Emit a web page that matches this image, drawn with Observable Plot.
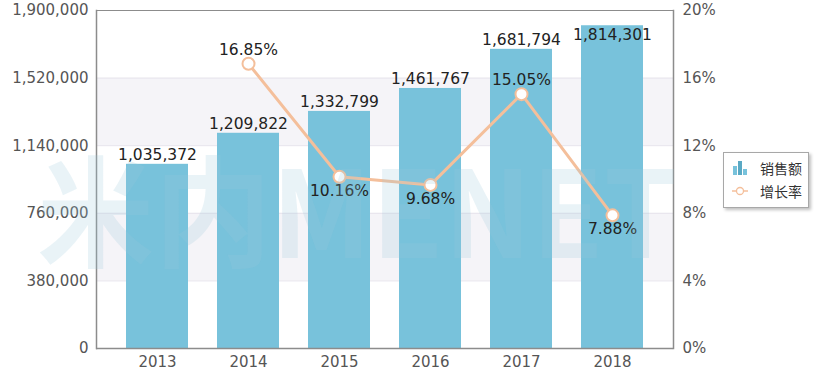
<!DOCTYPE html>
<html>
<head>
<meta charset="utf-8">
<script src="https://cdn.jsdelivr.net/npm/d3@7"></script>
<script src="https://cdn.jsdelivr.net/npm/@observablehq/plot@0.6"></script>
<style>
  html, body { margin: 0; padding: 0; background: #fff; }
  #wrap { position: relative; width: 818px; height: 375px; }
  #legend {
    position: absolute; left: 723px; top: 152px; width: 84px; height: 54px;
    background: #fff; border: 1px solid #a8a8a8; box-shadow: 2px 2px 3px rgba(0,0,0,0.25);
    font-family: "Noto Sans CJK SC", sans-serif; font-size: 14px; color: #333;
  }
  .item { position: absolute; left: 8px; display: flex; align-items: center; height: 22px; }
  .item span { margin-left: 12px; }
</style>
</head>
<body>
<div id="wrap"></div>
<script>
const years = ["2013", "2014", "2015", "2016", "2017", "2018"];
const sales = [1035372, 1209822, 1332799, 1461767, 1681794, 1814301];
const growthYears = ["2014", "2015", "2016", "2017", "2018"];
const growth = [16.85, 10.16, 9.68, 15.05, 7.88];
const leftTicks = [0, 380000, 760000, 1140000, 1520000, 1900000];
const rightTickLabels = ["0%", "4%", "8%", "12%", "16%", "20%"];
const seriesNames = ["销售额", "增长率"];
const watermark = "米内MENET";

const yMax = 1900000, pMax = 20;
const toY = p => p / pMax * yMax;

const barData = years.map((y, i) => ({year: y, value: sales[i]}));
const lineData = growthYears.map((y, i) => ({year: y, pct: growth[i], v: toY(growth[i])}));
const bands = [[leftTicks[1], leftTicks[2]], [leftTicks[3], leftTicks[4]]].map(([a, b]) => ({a, b}));

const fmt = d3.format(",");
const font = "DejaVu Sans, Verdana, sans-serif";
const lineColor = "#f4bf9b";
const barColor = "#78c2db";

const chart = Plot.plot({
  width: 818,
  height: 375,
  marginLeft: 96,
  marginRight: 145,
  marginTop: 10,
  marginBottom: 27,
  style: {fontFamily: font, fontSize: "15px", color: "#555", background: "#fff"},
  x: {type: "band", domain: years, paddingInner: 0.32, paddingOuter: 0.317, label: null},
  y: {domain: [0, yMax], label: null},
  marks: [
    Plot.rectY(bands, {y1: "a", y2: "b", fill: "#f5f4f8"}),
    Plot.gridY(leftTicks, {stroke: "#e6e3ec", strokeOpacity: 1}),
    Plot.axisY(leftTicks, {anchor: "left", tickFormat: fmt, tickSize: 0, tickPadding: 8, fontSize: 15, label: null, color: "#555"}),
    Plot.axisY(leftTicks, {anchor: "right", tickFormat: (d, i) => rightTickLabels[i], tickSize: 0, tickPadding: 9, fontSize: 15, label: null, color: "#555"}),
    Plot.axisX({tickSize: 0, tickPadding: 8, fontSize: 15, color: "#555", label: null}),
    Plot.barY(barData, {x: "year", y: "value", fill: barColor}),
    Plot.frame({anchor: "left", stroke: "#8c8c8c", strokeWidth: 1.5}),
    Plot.frame({anchor: "right", stroke: "#8c8c8c", strokeWidth: 1.5}),
    Plot.frame({anchor: "top", stroke: "#8c8c8c", strokeWidth: 1}),
    Plot.ruleY([0], {stroke: "#8c8c8c", strokeWidth: 1.5}),
    Plot.text(barData, {x: "year", y: "value", text: d => fmt(d.value), dy: d => 0, fill: "#222", fontSize: 15.5,
      filter: d => d.value < 1750000, lineAnchor: "bottom", dy: -4}),
    Plot.text(barData, {x: "year", y: "value", text: d => fmt(d.value), fill: "#222", fontSize: 15.5,
      filter: d => d.value >= 1750000, lineAnchor: "top", dy: 3}),
    Plot.line(lineData, {x: "year", y: "v", stroke: lineColor, strokeWidth: 3}),
    Plot.dot(lineData, {x: "year", y: "v", r: 6, fill: "#fff", stroke: lineColor, strokeWidth: 2}),
    Plot.text(lineData, {x: "year", y: "v", text: d => d.pct.toFixed(2) + "%", fill: "#222", fontSize: 15.5,
      filter: d => d.pct > 12, lineAnchor: "bottom", dy: -9}),
    Plot.text(lineData, {x: "year", y: "v", text: d => d.pct.toFixed(2) + "%", fill: "#222", fontSize: 15.5,
      filter: d => d.pct <= 12, lineAnchor: "top", dy: 8}),
    Plot.text([watermark], {text: d => d, frameAnchor: "middle", dx: -28, dy: 40, fontSize: 120, fontWeight: "bold",
      fill: "#9cc8da", fillOpacity: 0.22, className: "wm"})
  ]
});

const wm = d3.select(chart).select("g.wm text");
wm.attr("textLength", 640).attr("lengthAdjust", "spacingAndGlyphs").style("font-family", "Noto Sans CJK SC, sans-serif");

document.getElementById("wrap").appendChild(chart);

const legend = document.createElement("div");
legend.id = "legend";
legend.innerHTML = `
  <div class="item" style="top:4px">
    <svg width="16" height="16"><rect x="1" y="6" width="4" height="9" fill="${barColor}"/><rect x="6" y="1" width="4" height="14" fill="#5aa9c4"/><rect x="11" y="9" width="4" height="6" fill="${barColor}"/></svg>
    <span>${seriesNames[0]}</span>
  </div>
  <div class="item" style="top:27px">
    <svg width="16" height="16"><line x1="0" y1="8" x2="16" y2="8" stroke="${lineColor}" stroke-width="1.5"/><circle cx="8" cy="8" r="3.5" fill="#fff" stroke="${lineColor}" stroke-width="1.3"/></svg>
    <span>${seriesNames[1]}</span>
  </div>`;
document.getElementById("wrap").appendChild(legend);
</script>
</body>
</html>
